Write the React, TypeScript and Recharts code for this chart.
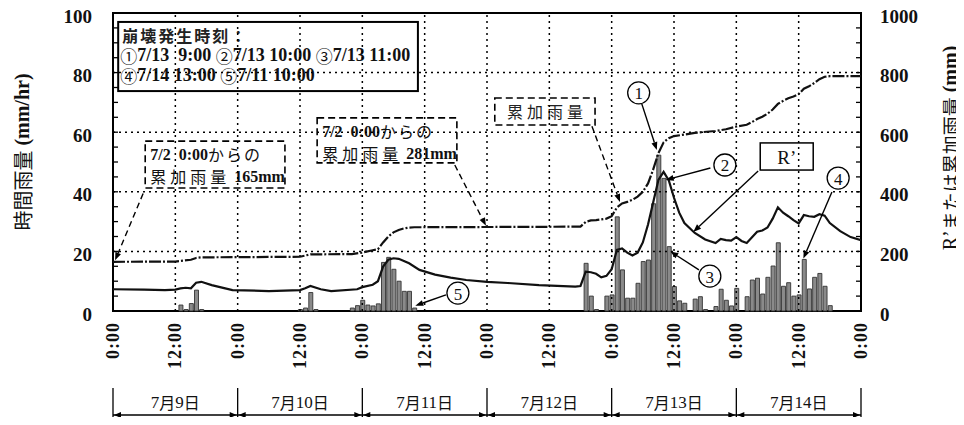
import React from 'react';
import {
  ComposedChart,
  Bar,
  Line,
  XAxis,
  YAxis,
  ReferenceLine,
  ReferenceArea,
  ReferenceDot,
} from 'recharts';

// ---------- data ----------
const rainHours = [
  13, 14, 15, 16, 17,
  36, 37, 38, 39,
  46, 47, 48, 49, 50, 51, 52, 53, 54, 55, 56, 57, 58,
  91, 92, 93, 95, 96, 97, 98, 99, 100, 101, 102, 103, 104, 105, 106, 107, 108, 109, 110,
  112, 113, 114, 116, 117, 118, 119, 120, 122, 123, 124, 125, 126, 127, 128, 129, 130,
  131, 132, 133, 134, 135, 136, 137, 138,
];
const rainValues = [
  2, 0.5, 2.5, 7, 0.5,
  0.5, 1, 6.2, 0.5,
  1, 1.8, 3.6, 2, 1.7, 2.4, 16.3, 18, 14, 10, 6.6, 6.6, 1,
  16, 5, 0.5, 5, 5.4, 31.6, 13.8, 4.3, 4.3, 9.3, 16.6, 17.1, 36, 52.3, 44.5, 21.6, 8.2, 3.4, 2.6,
  4, 4.8, 0.5, 1.5, 7.3, 3.6, 1.7, 7.6, 4.8, 10.4, 11, 5.7, 11.3, 15.1, 22.9, 8.3, 9.5,
  5, 5.4, 17.3, 7.4, 11.3, 12.6, 8.3, 1.8,
];

const cumHours = [
  0, 12, 13, 15, 16, 17, 36, 37, 38, 46, 48, 50, 51, 52, 53, 54, 55, 56, 57, 58,
  90, 91, 92, 93, 95, 96, 97, 98, 99, 100, 101, 102, 103, 104, 105, 106, 107, 108, 110,
  112, 116, 118, 120, 122, 123, 124, 125, 126, 127, 128, 129, 130, 131, 132, 133, 134,
  135, 136, 137, 138, 144,
];
const cumValues = [
  165, 166, 168, 172, 178, 180, 182, 186, 190, 191, 196, 204, 207, 230, 250, 264, 272, 277, 280, 281,
  283, 299, 304, 305, 310, 318, 347, 361, 366, 373, 384, 400, 428, 475, 530, 566, 580, 587, 592,
  598, 604, 610, 619, 625, 634, 644, 652, 662, 676, 695, 705, 714, 720, 728, 746, 754,
  765, 778, 786, 788, 788,
];

const rHours = [
  0, 6, 10, 12, 13, 14, 15, 16, 17, 19, 23, 30, 36, 37, 38, 40, 42, 47, 48, 50, 51, 52, 53, 54,
  55, 56, 57, 59, 62, 65, 68, 72, 76, 82, 89, 90, 91, 92, 93, 94, 95, 96, 97, 98, 99, 100,
  101, 102, 103, 104, 105, 106, 107, 108, 109, 110, 112, 114, 116, 117, 118, 119, 120, 121,
  122, 124, 125, 126, 127, 128, 129, 130, 131, 132, 133, 134, 135, 136, 137, 138, 140, 142, 144,
];
const rValues = [
  73, 72, 70, 72, 76, 78, 76, 95, 98, 87, 70, 67, 70, 76, 84, 73, 67, 73, 80, 88, 100, 149, 172, 177,
  175, 168, 160, 138, 122, 112, 104, 98, 94, 87, 82, 84, 132, 130, 125, 113, 118, 140, 205, 210, 196, 186,
  196, 230, 290, 365, 440, 467, 438, 380, 330, 295, 262, 240, 228, 242, 238, 236, 248, 235,
  228, 266, 270, 280, 310, 348, 330, 318, 305, 294, 322, 318, 316, 325, 320, 295, 268, 248, 238,
];

const timeTicks = [0, 12, 24, 36, 48, 60, 72, 84, 96, 108, 120, 132, 144];
const timeTickLabels = ['0:00', '12:00', '0:00', '12:00', '0:00', '12:00', '0:00', '12:00', '0:00', '12:00', '0:00', '12:00', '0:00'];
const leftTicks = [0, 5, 10, 15, 20, 25, 30, 35, 40, 45, 50, 55, 60, 65, 70, 75, 80, 85, 90, 95, 100];
const leftLabeled = [0, 20, 40, 60, 80, 100];
const rightTicks = [0, 50, 100, 150, 200, 250, 300, 350, 400, 450, 500, 550, 600, 650, 700, 750, 800, 850, 900, 950, 1000];
const rightLabeled = [0, 200, 400, 600, 800, 1000];
const gridY = [20, 40, 60, 80];
const gridX = [12, 24, 36, 48, 60, 72, 84, 96, 108, 120, 132];
const dayBoundaries = [0, 24, 48, 72, 96, 120, 144];
const dayCenters = [12, 36, 60, 84, 108, 132];
const dayLabels = ['7月9日', '7月10日', '7月11日', '7月12日', '7月13日', '7月14日'];

// ---------- layout ----------
const W = 956;
const H = 417;
const LEFT_W = 105;
const RIGHT_W = 103;
const XLAB_H = 74;
const DAYS_H = 40;
const PLOT_W = W - LEFT_W - RIGHT_W;
const PX_PER_H = PLOT_W / 144;
const L_MARGIN = 21;
const R_MARGIN = 19;

const SERIF = '"Liberation Serif", "DejaVu Serif", serif';
const CJK = '"Noto Sans CJK JP", "Noto Sans", sans-serif';

const rainData = rainHours.map((h, i) => ({ h, rain: rainValues[i] }));
const cumData = cumHours.map((h, i) => ({ h, v: cumValues[i] }));
const rData = rHours.map((h, i) => ({ h, v: rValues[i] }));

// split text into runs of ascii and non-ascii for mixed fonts
const runs = (s: string) => s.match(/[\x00-\x7F\u2019]+|[^\x00-\x7F\u2019]+/g) || [];
const isAscii = (r: string) => /^[\x00-\x7F\u2019]+$/.test(r);
const nb = (r: string) => r.replace(/ /g, '\u00a0');

const LeftTick = (props: any) => {
  const { x, y, payload } = props;
  const v = payload.value;
  const edge = x + L_MARGIN;
  return (
    <g>
      {v > 0 && v < 100 && <line x1={edge} x2={edge + 5} y1={y} y2={y} stroke="#000" strokeWidth={1.3} />}
      {leftLabeled.includes(v) && (
        <text x={x} y={y + 3} textAnchor="end" dominantBaseline="central" fontFamily={SERIF} fontWeight="bold" fontSize={19} fill="#111">
          {v}
        </text>
      )}
    </g>
  );
};

const RightTick = (props: any) => {
  const { x, y, payload } = props;
  const v = payload.value;
  const edge = x - R_MARGIN;
  return (
    <g>
      {v > 0 && v < 1000 && <line x1={edge - 5} x2={edge} y1={y} y2={y} stroke="#000" strokeWidth={1.3} />}
      {rightLabeled.includes(v) && (
        <text x={x} y={y + 3} textAnchor="start" dominantBaseline="central" fontFamily={SERIF} fontWeight="bold" fontSize={19} fill="#111">
          {v}
        </text>
      )}
    </g>
  );
};

const TimeTick = (props: any) => {
  const { x, y, payload } = props;
  const idx = timeTicks.indexOf(payload.value);
  const label = timeTickLabels[idx] ?? '';
  return (
    <text
      x={x}
      y={y}
      transform={`rotate(-90 ${x} ${y})`}
      textAnchor="end"
      dominantBaseline="central"
      fontFamily={SERIF}
      fontWeight="bold"
      fontSize={18}
      letterSpacing={1}
      fill="#111"
    >
      {label}
    </text>
  );
};

const DayTick = (props: any) => {
  const { x, y, payload } = props;
  const v = payload.value;
  if (dayBoundaries.includes(v)) {
    return <line x1={x} y1={y + 3} x2={x} y2={y + 34} stroke="#000" strokeWidth={1.3} />;
  }
  const idx = dayCenters.indexOf(v);
  if (idx < 0) return <g />;
  const half = PX_PER_H * 12;
  const ly = y + 30;
  const label = dayLabels[idx];
  return (
    <g>
      <line x1={x - half} y1={ly} x2={x + half} y2={ly} stroke="#000" strokeWidth={1.4} />
      <polygon points={`${x - half + 1},${ly} ${x - half + 8},${ly - 3} ${x - half + 8},${ly + 3}`} fill="#000" />
      <polygon points={`${x + half - 1},${ly} ${x + half - 8},${ly - 3} ${x + half - 8},${ly + 3}`} fill="#000" />
      <text x={x} y={y + 17} textAnchor="middle" dominantBaseline="central" fill="#111">
        {runs(label).map((r, i) =>
          isAscii(r) ? (
            <tspan key={i} fontFamily={SERIF} fontSize={17}>{r}</tspan>
          ) : (
            <tspan key={i} fontFamily={CJK} fontSize={16}>{r}</tspan>
          )
        )}
      </text>
    </g>
  );
};

const LeftTitle = (props: any) => {
  const vb = props.viewBox || {};
  const cx = (vb.x ?? 0) + 14;
  const cy = (vb.y ?? 0) + (vb.height ?? 0) / 2 - 10;
  return (
    <text x={cx} y={cy} transform={`rotate(-90 ${cx} ${cy})`} textAnchor="middle" dominantBaseline="central" fill="#111">
      <tspan fontFamily={CJK} fontSize={20}>時間雨量</tspan>
      <tspan fontFamily={SERIF} fontWeight="bold" fontSize={20}>{'\u00a0(mm/hr)'}</tspan>
    </text>
  );
};

const RightTitle = (props: any) => {
  const vb = props.viewBox || {};
  const cx = (vb.x ?? 0) + 89;
  const cy = (vb.y ?? 0) + (vb.height ?? 0) / 2 - 14;
  return (
    <text x={cx} y={cy} transform={`rotate(-90 ${cx} ${cy})`} textAnchor="middle" dominantBaseline="central" fill="#111">
      <tspan fontFamily={SERIF} fontSize={20}>R’</tspan>
      <tspan fontFamily={CJK} fontSize={19}>または累加雨量</tspan>
      <tspan fontFamily={SERIF} fontWeight="bold" fontSize={20}>{'\u00a0(mm)'}</tspan>
    </text>
  );
};

const MixedText = ({ x, y, text, size, cjkSize, cjkSpacing = 0, cjkWeight = 'normal' }: any) => (
  <text x={x} y={y} dominantBaseline="central" fill="#111">
    {runs(text).map((r: string, i: number) =>
      isAscii(r) ? (
        <tspan key={i} fontFamily={SERIF} fontWeight="bold" fontSize={size}>{nb(r)}</tspan>
      ) : (
        <tspan key={i} fontFamily={CJK} fontWeight={cjkWeight} fontSize={cjkSize ?? size} letterSpacing={cjkSpacing}>{r}</tspan>
      )
    )}
  </text>
);

const legendShape = (p: any) => (
  <g>
    <rect x={p.x} y={p.y} width={p.width} height={p.height} fill="#fff" stroke="#000" strokeWidth={2} />
    <text x={p.x + 4} y={p.y + 13} dominantBaseline="central" fontFamily={CJK} fontWeight="bold" fontSize={16} letterSpacing={2} fill="#222">
      崩壊発生時刻：
    </text>
    <MixedText x={p.x + 2} y={p.y + 33} text="①7/13  9:00 ②7/13 10:00 ③7/13 11:00" size={18} cjkSize={17} />
    <MixedText x={p.x + 2} y={p.y + 53} text="④7/14 13:00 ⑤7/11 10:00" size={18} cjkSize={17} />
  </g>
);

const makeDashedBox = (line1: string, line2: string) => (p: any) => (
  <g>
    <rect x={p.x} y={p.y} width={p.width} height={p.height} fill="#fff" stroke="#000" strokeWidth={1.6} strokeDasharray="7 4" />
    <MixedText x={p.x + 5} y={p.y + 13} text={line1} size={16} cjkSize={16} cjkSpacing={2} />
    {line2 && <MixedText x={p.x + 5} y={p.y + 35} text={line2} size={16} cjkSize={16} cjkSpacing={4} />}
  </g>
);

const cumLabelShape = (p: any) => (
  <g>
    <rect x={p.x} y={p.y} width={p.width} height={p.height} fill="#fff" stroke="#000" strokeWidth={1.6} strokeDasharray="7 4" />
    <text x={p.x + p.width / 2 + 2} y={p.y + p.height / 2} textAnchor="middle" dominantBaseline="central" fontFamily={CJK} fontSize={16} letterSpacing={4} fill="#222">
      累加雨量
    </text>
  </g>
);

const rBoxShape = (p: any) => (
  <g>
    <rect x={p.x} y={p.y} width={p.width} height={p.height} fill="#fff" stroke="#000" strokeWidth={1.5} />
    <text x={p.x + p.width / 2} y={p.y + p.height / 2 + 1} textAnchor="middle" dominantBaseline="central" fontFamily={SERIF} fontSize={19} fill="#111">
      R’
    </text>
  </g>
);

const arrowShape = (dashed: boolean) => (p: any) => {
  const { x1, y1, x2, y2 } = p;
  const ang = Math.atan2(y2 - y1, x2 - x1);
  const L = 8;
  const Wd = 3;
  const bx = x2 - L * Math.cos(ang);
  const by = y2 - L * Math.sin(ang);
  const px = -Math.sin(ang) * Wd;
  const py = Math.cos(ang) * Wd;
  return (
    <g>
      <line x1={x1} y1={y1} x2={bx} y2={by} stroke="#000" strokeWidth={1.4} strokeDasharray={dashed ? '6 4' : undefined} />
      <polygon points={`${x2},${y2} ${bx + px},${by + py} ${bx - px},${by - py}`} fill="#000" />
    </g>
  );
};

const circleShape = (digit: string) => (p: any) => (
  <g>
    <circle cx={p.cx} cy={p.cy} r={11} fill="#fff" stroke="#000" strokeWidth={1.3} />
    <text x={p.cx} y={p.cy + 1} textAnchor="middle" dominantBaseline="central" fontFamily={SERIF} fontSize={17} fill="#111">
      {digit}
    </text>
  </g>
);

const circles = [
  { d: '1', x: 101.2, y: 73.2 },
  { d: '2', x: 117.8, y: 49.0 },
  { d: '3', x: 114.9, y: 11.7 },
  { d: '4', x: 139.6, y: 44.6 },
  { d: '5', x: 66.4, y: 6.0 },
];

const leaders = [
  { dashed: true, a: { x: 5.8, y: 39.4 }, b: { x: 0.4, y: 17.0 } },
  { dashed: true, a: { x: 65.8, y: 49.0 }, b: { x: 71.8, y: 28.6 } },
  { dashed: true, a: { x: 92.2, y: 62.0 }, b: { x: 97.6, y: 36.6 } },
  { dashed: false, a: { x: 101.8, y: 69.5 }, b: { x: 104.7, y: 54.0 } },
  { dashed: false, a: { x: 115.0, y: 48.0 }, b: { x: 106.4, y: 44.0 } },
  { dashed: false, a: { x: 124.2, y: 47.0 }, b: { x: 111.7, y: 26.5 } },
  { dashed: false, a: { x: 112.8, y: 13.8 }, b: { x: 107.3, y: 20.0 } },
  { dashed: false, a: { x: 138.4, y: 39.9 }, b: { x: 132.9, y: 17.6 } },
  { dashed: false, a: { x: 64.1, y: 5.4 }, b: { x: 58.2, y: 1.8 } },
];

export default function App() {
  return (
    <div style={{ width: W, height: H, marginBottom: -8 }}>
      <ComposedChart width={W} height={H} data={rainData} margin={{ top: 5, right: 0, left: 0, bottom: 0 }}>
        <XAxis
          xAxisId="b"
          dataKey="h"
          type="number"
          domain={[0, 144]}
          ticks={[0, 12, 24, 36, 48, 60, 72, 84, 96, 108, 120, 132, 144]}
          interval={0}
          allowDataOverflow
          height={DAYS_H}
          tickSize={0}
          tickMargin={0}
          tickLine={false}
          axisLine={false}
          tick={<DayTick />}
        />
        <XAxis
          xAxisId="a"
          dataKey="h"
          type="number"
          domain={[0, 144]}
          ticks={timeTicks}
          interval={0}
          allowDataOverflow
          height={XLAB_H}
          tickSize={0}
          tickMargin={11}
          tickLine={false}
          axisLine={false}
          tick={<TimeTick />}
        />
        <YAxis
          yAxisId="left"
          orientation="left"
          domain={[0, 100]}
          ticks={leftTicks}
          interval={0}
          width={LEFT_W}
          tickSize={0}
          tickMargin={L_MARGIN}
          tickLine={false}
          axisLine={false}
          tick={<LeftTick />}
          label={(props: any) => <LeftTitle {...props} />}
        />
        <YAxis
          yAxisId="right"
          orientation="right"
          domain={[0, 1000]}
          ticks={rightTicks}
          interval={0}
          width={RIGHT_W}
          tickSize={0}
          tickMargin={R_MARGIN}
          tickLine={false}
          axisLine={false}
          tick={<RightTick />}
          label={(props: any) => <RightTitle {...props} />}
        />

        {gridY.map((v) => (
          <ReferenceLine key={`gy${v}`} xAxisId="a" yAxisId="left" y={v} stroke="#000" strokeWidth={1.5} strokeDasharray="2 4" />
        ))}
        {gridX.map((v) => (
          <ReferenceLine key={`gx${v}`} xAxisId="a" yAxisId="left" x={v} stroke="#000" strokeWidth={1.5} strokeDasharray="2 4" />
        ))}

        <Bar xAxisId="a" yAxisId="left" dataKey="rain" barSize={4} fill="#8a8a8a" stroke="#333" strokeWidth={0.9} isAnimationActive={false} />
        <Line
          xAxisId="a"
          yAxisId="right"
          data={cumData}
          dataKey="v"
          type="linear"
          stroke="#111"
          strokeWidth={2.2}
          strokeDasharray="12 2 2 2"
          dot={false}
          activeDot={false}
          isAnimationActive={false}
        />
        <Line
          xAxisId="a"
          yAxisId="right"
          data={rData}
          dataKey="v"
          type="linear"
          stroke="#111"
          strokeWidth={2.2}
          dot={false}
          activeDot={false}
          isAnimationActive={false}
        />

        <ReferenceArea xAxisId="a" yAxisId="left" x1={0} x2={144} y1={0} y2={100} ifOverflow="visible"
          shape={(p: any) => <rect x={p.x} y={p.y} width={p.width} height={p.height} fill="none" stroke="#000" strokeWidth={2} />} />

        <ReferenceArea xAxisId="a" yAxisId="left" x1={1} x2={58.7} y1={73.8} y2={97} ifOverflow="visible" shape={legendShape} />
        <ReferenceArea xAxisId="a" yAxisId="left" x1={6.2} x2={33.1} y1={41.3} y2={57.0} ifOverflow="visible"
          shape={makeDashedBox('7/2  0:00からの', '累加雨量 165mm')} />
        <ReferenceArea xAxisId="a" yAxisId="left" x1={39.3} x2={66.2} y1={49.7} y2={64.8} ifOverflow="visible"
          shape={makeDashedBox('7/2  0:00からの', '累加雨量 281mm')} />
        <ReferenceArea xAxisId="a" yAxisId="left" x1={73.5} x2={92.8} y1={62.4} y2={71.5} ifOverflow="visible" shape={cumLabelShape} />
        <ReferenceArea xAxisId="a" yAxisId="left" x1={124.6} x2={134.8} y1={47.3} y2={56.4} ifOverflow="visible" shape={rBoxShape} />

        {leaders.map((l, i) => (
          <ReferenceLine key={`ld${i}`} xAxisId="a" yAxisId="left" segment={[l.a, l.b]} ifOverflow="visible" shape={arrowShape(l.dashed)} />
        ))}
        {circles.map((c) => (
          <ReferenceDot key={`c${c.d}`} xAxisId="a" yAxisId="left" x={c.x} y={c.y} r={11} ifOverflow="visible" shape={circleShape(c.d)} />
        ))}
      </ComposedChart>
    </div>
  );
}
